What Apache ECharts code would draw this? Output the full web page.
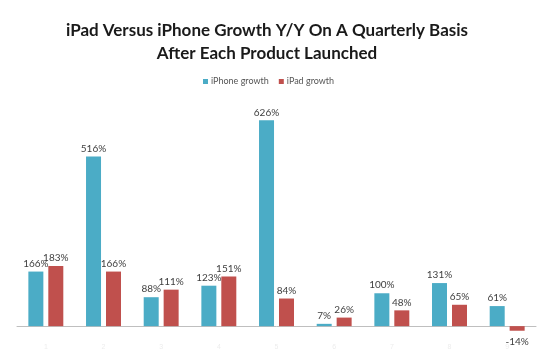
<!DOCTYPE html>
<html>
<head>
<meta charset="utf-8">
<script src="https://cdn.jsdelivr.net/npm/echarts@6/dist/echarts.min.js"></script>
<style>
    html, body { margin: 0; padding: 0; background: #fff; }
    #chart { width: 550px; height: 351px; }
</style>
</head>
<body>
<div id="chart"></div>
<script>
const categories = ['1', '2', '3', '4', '5', '6', '7', '8', '9'];
const iphoneGrowth = [166, 516, 88, 123, 626, 7, 100, 131, 61];
const ipadGrowth = [183, 166, 111, 151, 84, 26, 48, 65, -14];

const labelStyle = {
    show: true,
    position: 'top',
    distance: 3,
    color: '#404040',
    fontSize: 10,
    fontFamily: 'Lato',
    formatter: p => p.value + '%'
};

// negative values get their label under the bar
const withLabels = values => values.map(v =>
    v < 0 ? { value: v, label: { position: 'bottom', distance: 6 } } : v
);

const chart = echarts.init(document.getElementById('chart'));

chart.setOption({
    animation: false,
    title: {
        text: 'iPad Versus iPhone Growth Y/Y On A Quarterly Basis\nAfter Each Product Launched',
        left: 262,
        textAlign: 'center',
        top: 14,
        textStyle: {
            fontFamily: 'Lato',
            fontWeight: 'bold',
            fontSize: 17,
            lineHeight: 23,
            color: '#1a1a1a'
        }
    },
    legend: {
        top: 72,
        left: 198,
        itemWidth: 5,
        itemHeight: 5,
        itemGap: 10,
        icon: 'rect',
        textStyle: { fontSize: 9, color: '#555', fontFamily: 'Lato', padding: [0, 0, 0, -2] }
    },
    grid: {
        left: 17,
        right: 14,
        top: 96,
        bottom: 11
    },
    xAxis: {
        type: 'category',
        data: categories,
        axisLine: { show: true, onZero: true, lineStyle: { color: '#bfbfbf', width: 1 } },
        axisTick: { show: false },
        axisLabel: { color: '#ededed', fontSize: 7, margin: 8 }
    },
    yAxis: {
        type: 'value',
        min: -30,
        max: 700,
        show: false,
        splitLine: { show: false }
    },
    series: [
        {
            name: 'iPhone growth',
            type: 'bar',
            data: withLabels(iphoneGrowth),
            barWidth: 15,
            barGap: '33%',
            itemStyle: { color: '#4bacc6' },
            label: labelStyle
        },
        {
            name: 'iPad growth',
            type: 'bar',
            data: withLabels(ipadGrowth),
            barWidth: 15,
            itemStyle: { color: '#c0504d' },
            label: labelStyle
        }
    ]
});
</script>
</body>
</html>
